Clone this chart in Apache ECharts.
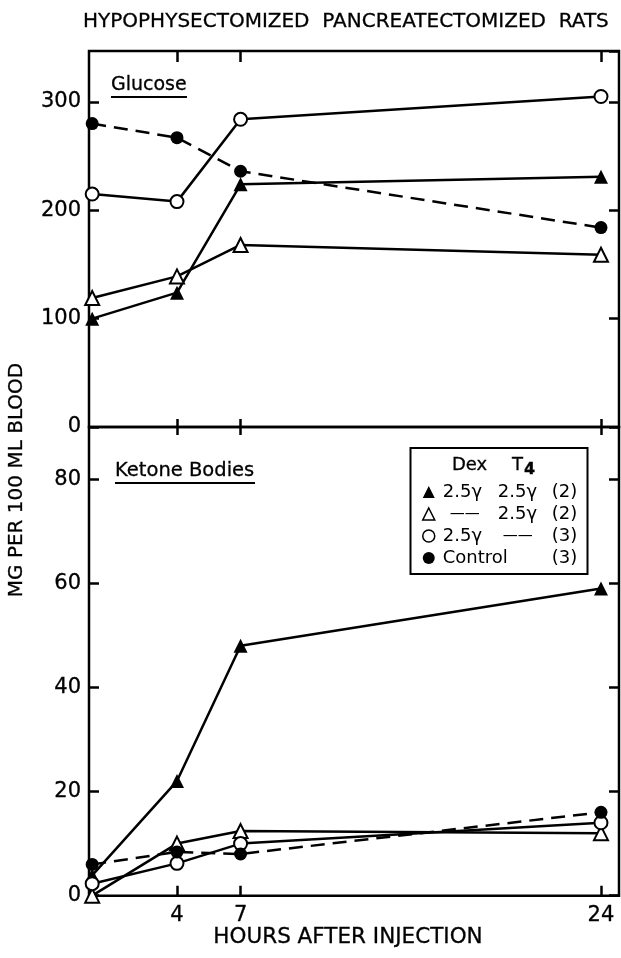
<!DOCTYPE html>
<html><head><meta charset="utf-8">
<script src="https://cdn.jsdelivr.net/npm/echarts@6/dist/echarts.min.js"></script>
<style>html,body{margin:0;padding:0;background:#fff}#c{width:621px;height:958px}</style>
</head><body><div id="c"></div>
<script>
// ---- data ----
const hours = [0, 4, 7, 24];
const xTickValues = [4, 7, 24];
const seriesNames = ['dexT4', 't4only', 'dexOnly', 'control'];
const glucoseDexT4   = [100, 124, 224, 231];
const glucoseT4Only  = [119, 139, 168, 159];
const glucoseDexOnly = [215, 208, 284, 305];
const glucoseControl = [280, 267, 236, 184];
const ketoneDexT4    = [3.9, 22, 48, 59];
const ketoneT4Only   = [0, 10, 12.4, 12];
const ketoneDexOnly  = [2.3, 6.2, 10, 14];
const ketoneControl  = [6, 8.4, 8, 16];
const legendLabels = {
  dexT4:   '{s|}{a|2.5γ}{b|2.5γ}{c|(2)}',
  t4only:  '{s|}{s7|}{d1|——}{b|2.5γ}{c|(2)}',
  dexOnly: '{s|}{a|2.5γ}{s5|}{d2|——}{c|(3)}',
  control: '{s|}{w|Control}{c|(3)}'
};
const titleText = 'HYPOPHYSECTOMIZED  PANCREATECTOMIZED  RATS';
const xName = 'HOURS AFTER INJECTION';
const yName = 'MG PER 100 ML BLOOD';

// ---- style ----
const FONT = 'DejaVu Sans';
const TB = { textBorderColor: '#000', textBorderWidth: 0.3 };
const GS = { stroke: '#000', lineWidth: 0.3 };
const markerStyle = {
  dexT4:   { symbol: 'triangle', size: 14, fill: '#000', dashed: false },
  t4only:  { symbol: 'triangle', size: 14, fill: '#fff', dashed: false },
  dexOnly: { symbol: 'circle',   size: 13, fill: '#fff', dashed: false },
  control: { symbol: 'circle',   size: 13, fill: '#000', dashed: true }
};
function pairs(vals) { return hours.map((h, i) => [h, vals[i]]); }
function mk(name, vals, xi, yi) {
  const m = markerStyle[name];
  return {
    name, type: 'line', xAxisIndex: xi, yAxisIndex: yi, data: pairs(vals),
    symbol: m.symbol, symbolSize: m.size, clip: false, animation: false,
    itemStyle: { color: m.fill, borderColor: '#000', borderWidth: m.fill === '#fff' ? 2 : 0 },
    lineStyle: { color: '#000', width: 2.5, type: m.dashed ? [14, 8] : 'solid' },
    emphasis: { disabled: true }
  };
}
const XMIN = -0.15, XMAX = 24.85;
function xAxisDef(grid, pos, len, labels) {
  return {
    type: 'value', gridIndex: grid, position: pos, min: XMIN, max: XMAX,
    axisLine: { show: false, onZero: false }, splitLine: { show: false },
    axisTick: { show: true, inside: true, length: len, customValues: xTickValues, lineStyle: { color: '#000', width: 2.5 } },
    axisLabel: labels ? Object.assign({ show: true, customValues: xTickValues, margin: 9, color: '#000', fontFamily: FONT, fontSize: 21 }, TB) : { show: false }
  };
}
function yAxisDef(grid, pos, max, interval, labels) {
  return {
    type: 'value', gridIndex: grid, position: pos, min: 0, max: max, interval: interval,
    axisLine: { show: false, onZero: false }, splitLine: { show: false },
    axisTick: { show: true, inside: true, length: 10, lineStyle: { color: '#000', width: 2.5 } },
    axisLabel: labels ? Object.assign({ show: true, margin: 8, showMaxLabel: false, color: '#000', fontFamily: FONT, fontSize: 21 }, TB) : { show: false }
  };
}

const chart = echarts.init(document.getElementById('c'));
const xa3 = xAxisDef(1, 'bottom', 10, true);
xa3.name = xName; xa3.nameLocation = 'middle'; xa3.nameGap = 30;
xa3.nameTextStyle = Object.assign({ color: '#000', fontFamily: FONT, fontSize: 21.5, padding: [0, 12, 0, 0] }, TB);

chart.setOption({
  animation: false,
  title: { text: titleText, left: 78, top: 7, textStyle: Object.assign({ color: '#000', fontFamily: FONT, fontSize: 20, fontWeight: 'normal' }, TB) },
  grid: [
    { left: 89, top: 51, width: 530, height: 376, show: true, borderColor: '#000', borderWidth: 2.5, backgroundColor: 'transparent' },
    { left: 89, top: 427, width: 530, height: 482, show: true, borderColor: '#000', borderWidth: 2.5, backgroundColor: 'transparent' }
  ],
  xAxis: [
    xAxisDef(0, 'top', 11, false),
    xAxisDef(0, 'bottom', 8, false),
    xAxisDef(1, 'top', 8, false),
    xa3
  ],
  yAxis: [
    yAxisDef(0, 'left', 347, 100, true),
    yAxisDef(0, 'right', 347, 100, false),
    yAxisDef(1, 'left', 90, 20, true),
    yAxisDef(1, 'right', 90, 20, false)
  ],
  legend: {
    orient: 'vertical', left: 417, top: 478, itemWidth: 12, itemHeight: 12, itemGap: 4,
    selectedMode: false, z: 10,
    data: [
      { name: 'dexT4', icon: 'triangle', itemStyle: { color: '#000', borderWidth: 0 } },
      { name: 't4only', icon: 'triangle', itemStyle: { color: '#fff', borderColor: '#000', borderWidth: 1.5 } },
      { name: 'dexOnly', icon: 'circle', itemStyle: { color: '#fff', borderColor: '#000', borderWidth: 1.5 } },
      { name: 'control', icon: 'circle', itemStyle: { color: '#000', borderWidth: 0 } }
    ],
    formatter: n => legendLabels[n],
    textStyle: {
      color: '#000', fontFamily: FONT, fontSize: 18, lineHeight: 15,
      rich: {
        s: { width: 3, lineHeight: 15 }, s7: { width: 7, lineHeight: 15 }, s5: { width: 5, lineHeight: 15 },
        a: { width: 55, fontFamily: FONT, fontSize: 18, color: '#000', lineHeight: 15 },
        b: { width: 54, fontFamily: FONT, fontSize: 18, color: '#000', lineHeight: 15 },
        c: { fontFamily: FONT, fontSize: 18, color: '#000', lineHeight: 15 },
        d1: { width: 48, fontFamily: FONT, fontSize: 15, color: '#000', lineHeight: 15 },
        d2: { width: 49, fontFamily: FONT, fontSize: 15, color: '#000', lineHeight: 15 },
        w: { width: 109, fontFamily: FONT, fontSize: 18, color: '#000', lineHeight: 15 }
      }
    }
  },
  graphic: [
    { type: 'rect', z: 5, shape: { x: 410.5, y: 448, width: 177, height: 126 }, style: { fill: '#fff', stroke: '#000', lineWidth: 2 } },
    { type: 'text', z: 11, x: 452, y: 465, style: Object.assign({ text: 'Dex', fill: '#000', font: '18px "DejaVu Sans"', textVerticalAlign: 'middle' }, GS) },
    { type: 'text', z: 11, x: 512, y: 465, style: Object.assign({ text: 'T', fill: '#000', font: '18px "DejaVu Sans"', textVerticalAlign: 'middle' }, GS) },
    { type: 'text', z: 11, x: 524, y: 470, style: Object.assign({ text: '4', fill: '#000', font: 'bold 16px "DejaVu Sans"', textVerticalAlign: 'middle' }, GS) },
    { type: 'text', z: 11, x: 111, y: 85, style: Object.assign({ text: 'Glucose', fill: '#000', font: '19px "DejaVu Sans"', textVerticalAlign: 'middle' }, GS) },
    { type: 'line', z: 11, shape: { x1: 111, y1: 97, x2: 187, y2: 97 }, style: { stroke: '#000', lineWidth: 2 } },
    { type: 'text', z: 11, x: 115, y: 471, style: Object.assign({ text: 'Ketone Bodies', fill: '#000', font: '19.5px "DejaVu Sans"', textVerticalAlign: 'middle' }, GS) },
    { type: 'line', z: 11, shape: { x1: 115, y1: 483, x2: 255, y2: 483 }, style: { stroke: '#000', lineWidth: 2 } },
    { type: 'text', z: 11, x: 17, y: 480, rotation: Math.PI / 2, style: Object.assign({ text: yName, fill: '#000', font: '20px "DejaVu Sans"', textAlign: 'center', textVerticalAlign: 'middle' }, GS) }
  ],
  series: [
    mk('dexT4', glucoseDexT4, 0, 0),
    mk('t4only', glucoseT4Only, 0, 0),
    mk('dexOnly', glucoseDexOnly, 0, 0),
    mk('control', glucoseControl, 0, 0),
    mk('dexT4', ketoneDexT4, 3, 2),
    mk('t4only', ketoneT4Only, 3, 2),
    mk('dexOnly', ketoneDexOnly, 3, 2),
    mk('control', ketoneControl, 3, 2)
  ]
});
</script>
</body></html>
